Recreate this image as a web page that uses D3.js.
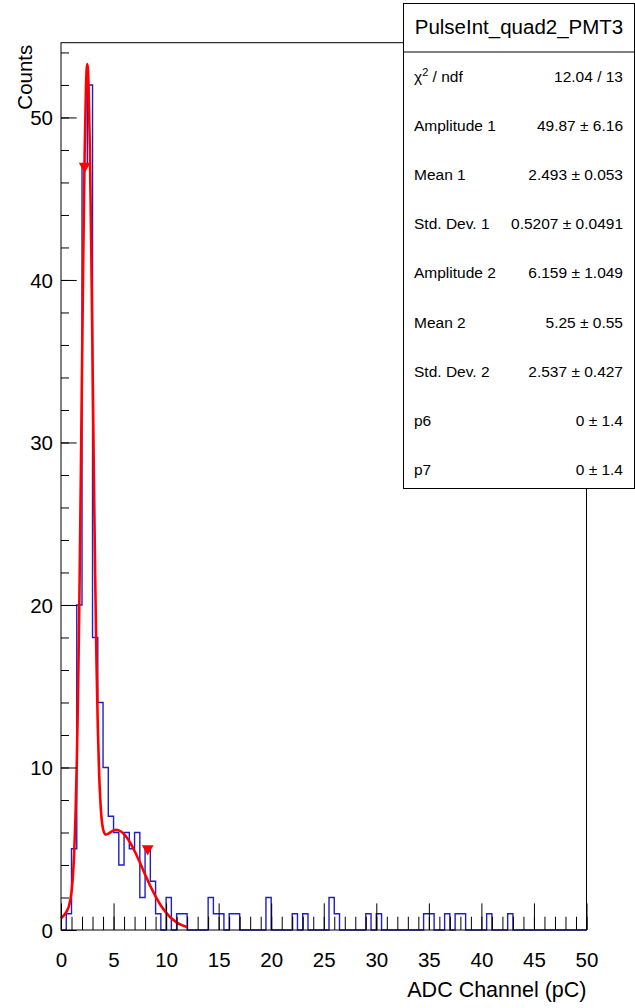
<!DOCTYPE html>
<html>
<head>
<meta charset="utf-8">
<script src="https://cdn.jsdelivr.net/npm/d3@7"></script>
<style>
  html, body { margin: 0; padding: 0; background: #ffffff; }
  svg { display: block; }
  text { font-family: "Liberation Sans", Arial, Helvetica, sans-serif; fill: #000; }
</style>
</head>
<body>
<svg id="chart" width="635" height="1008"></svg>
<script>
// ---------------- data ----------------
const histName = "PulseInt_quad2_PMT3";
const xTitle = "ADC Channel (pC)";
const yTitle = "Counts";
const xRange = [0, 50];
const binWidth = 0.5;
// 100 bins of 0.5 pC from 0 to 50
const counts = [
  0, 1, 5, 20, 47, 52, 18, 14, 10, 7,
  6, 4, 6, 5, 6, 2, 5, 3, 1, 0,
  2, 0, 1, 1, 0, 0, 0, 0, 2, 1,
  1, 0, 1, 1, 0, 0, 0, 0, 0, 2,
  0, 0, 0, 0, 1, 0, 1, 0, 0, 0,
  0, 2, 1, 0, 0, 0, 0, 0, 1, 0,
  1, 0, 0, 0, 0, 0, 0, 0, 0, 1,
  1, 0, 0, 1, 0, 1, 1, 0, 0, 0,
  0, 1, 0, 0, 0, 1, 0, 0, 0, 0,
  0, 0, 0, 0, 0, 0, 0, 0, 0, 0
];
// fitted curve
const fitX = [0, 0.5, 0.75, 1, 1.125, 1.25, 1.375, 1.5, 1.625, 1.75, 1.875, 2, 2.125, 2.25, 2.375, 2.5,
  2.625, 2.75, 2.875, 3, 3.125, 3.25, 3.375, 3.5, 3.625, 3.75, 4, 4.25, 4.5, 5, 5.25, 5.5, 6, 6.5, 7,
  7.5, 8, 8.5, 9, 9.5, 10, 10.5, 11, 11.5, 12];
const fitY = [0.72, 1.10, 1.46, 2.33, 3.22, 4.66, 6.90, 10.16, 14.65, 20.40, 27.20, 34.57, 41.74, 47.78, 51.85, 53.29,
  51.91, 47.94, 42.08, 35.20, 28.22, 21.84, 16.57, 12.55, 9.70, 7.88, 6.22, 5.87, 5.93, 6.13, 6.16, 6.13, 5.90, 5.46, 4.86,
  4.16, 3.42, 2.71, 2.07, 1.51, 1.07, 0.72, 0.47, 0.30, 0.18];
// peak markers
const peakX = [2.25, 8.25];
const peakY = [47, 5];
// axis ticks
const xMajorTicks = [0, 5, 10, 15, 20, 25, 30, 35, 40, 45, 50];
const xMinorTicks = d3.range(0, 51, 1);
const yMajorTicks = [0, 10, 20, 30, 40, 50];
const yMinorTicks = d3.range(0, 55, 2);
const yMax = 54.6;
// stats box
const statLabels = ["\u03C7\u00B2 / ndf", "Amplitude 1", "Mean 1", "Std. Dev. 1", "Amplitude 2", "Mean 2", "Std. Dev. 2", "p6", "p7"];
const statValues = ["12.04 / 13", "49.87 \u00B1 6.16", "2.493 \u00B1 0.053", "0.5207 \u00B1 0.0491", "6.159 \u00B1 1.049",
  "5.25 \u00B1 0.55", "2.537 \u00B1 0.427", "0 \u00B1 1.4", "0 \u00B1 1.4"];

// ---------------- layout ----------------
const frame = { left: 61, right: 586.5, top: 42.7, bottom: 930 };
const svg = d3.select("#chart");

const x = d3.scaleLinear().domain(xRange).range([frame.left, frame.right]);
const y = d3.scaleLinear().domain([0, yMax]).range([frame.bottom, frame.top]);

// histogram outline
const histPts = [[0, 0]].concat(counts.map((c, i) => [i * binWidth, c])).concat([[xRange[1], 0]]);
svg.append("path")
  .attr("d", d3.line().x(d => x(d[0])).y(d => y(d[1])).curve(d3.curveStepAfter)(histPts))
  .attr("fill", "none")
  .attr("stroke", "#1f1fc4")
  .attr("stroke-width", 1.4);

// fit curve
svg.append("path")
  .attr("d", d3.line().x((d, i) => x(fitX[i])).y((d, i) => y(fitY[i])).curve(d3.curveMonotoneX)(fitX))
  .attr("fill", "none")
  .attr("stroke", "#ff0000")
  .attr("stroke-width", 2.6)
  .attr("stroke-linejoin", "round");

// peak markers (downward triangles)
svg.selectAll("path.peak").data(peakX).enter().append("path")
  .attr("class", "peak")
  .attr("d", d3.symbol().type(d3.symbolTriangle).size(60))
  .attr("transform", (d, i) => `translate(${x(d)},${y(peakY[i])}) rotate(180)`)
  .attr("fill", "#ff0000");

// frame
svg.append("rect")
  .attr("x", frame.left).attr("y", frame.top)
  .attr("width", frame.right - frame.left).attr("height", frame.bottom - frame.top)
  .attr("fill", "none").attr("stroke", "#000").attr("stroke-width", 1);

const fontSize = 20.5;
// x axis minor
const gxMinor = svg.append("g").attr("transform", `translate(0,${frame.bottom})`)
  .call(d3.axisBottom(x).tickValues(xMinorTicks).tickSize(-13.3).tickFormat(""));
gxMinor.select(".domain").remove();
// x axis major
const gx = svg.append("g").attr("transform", `translate(0,${frame.bottom})`)
  .call(d3.axisBottom(x).tickValues(xMajorTicks).tickSize(-26.6).tickFormat(d3.format("d")));
gx.select(".domain").remove();
gx.selectAll("text").attr("y", 37).attr("dy", null)
  .style("font-size", fontSize + "px").style("font-family", '"Liberation Sans", Arial, sans-serif');

// y axis minor
const gyMinor = svg.append("g").attr("transform", `translate(${frame.left},0)`)
  .call(d3.axisLeft(y).tickValues(yMinorTicks).tickSize(-8).tickFormat(""));
gyMinor.select(".domain").remove();
const gy = svg.append("g").attr("transform", `translate(${frame.left},0)`)
  .call(d3.axisLeft(y).tickValues(yMajorTicks).tickSize(-15.7).tickFormat(d3.format("d")));
gy.select(".domain").remove();
gy.selectAll("text").attr("x", -8).attr("dy", "0.36em")
  .style("font-size", fontSize + "px").style("font-family", '"Liberation Sans", Arial, sans-serif');
svg.selectAll(".tick line").attr("stroke", "#000");

// axis titles
svg.append("text")
  .attr("x", frame.right).attr("y", 997)
  .attr("text-anchor", "end")
  .style("font-size", "21.5px")
  .text(xTitle);
svg.append("text")
  .attr("transform", `translate(31.5,${frame.top + 2}) rotate(-90)`)
  .attr("text-anchor", "end")
  .style("font-size", "20.5px")
  .text(yTitle);

// stats box
const box = { left: 403.5, right: 634.5, top: 3.5, bottom: 488.5, sep: 52 };
svg.append("rect")
  .attr("x", box.left).attr("y", box.top)
  .attr("width", box.right - box.left).attr("height", box.bottom - box.top)
  .attr("fill", "#fff").attr("stroke", "#000").attr("stroke-width", 1);
svg.append("line")
  .attr("x1", box.left).attr("x2", box.right).attr("y1", box.sep).attr("y2", box.sep)
  .attr("stroke", "#000").attr("stroke-width", 1);
svg.append("text")
  .attr("x", (box.left + box.right) / 2).attr("y", 34)
  .attr("text-anchor", "middle")
  .style("font-size", "20.5px")
  .text(histName);

const rowY = statLabels.map((d, i) => 82 + i * 49.1);
statLabels.forEach((lab, i) => {
  const t = svg.append("text").attr("x", 414).attr("y", rowY[i]).style("font-size", "15.5px");
  if (i === 0) {
    t.append("tspan").text("\u03C7");
    t.append("tspan").attr("dy", -6).style("font-size", "11px").text("2");
    t.append("tspan").attr("dy", 6).text(" / ndf");
  } else {
    t.text(lab);
  }
  svg.append("text").attr("x", 623).attr("y", rowY[i]).attr("text-anchor", "end")
    .style("font-size", "15.5px").text(statValues[i]);
});
</script>
</body>
</html>
